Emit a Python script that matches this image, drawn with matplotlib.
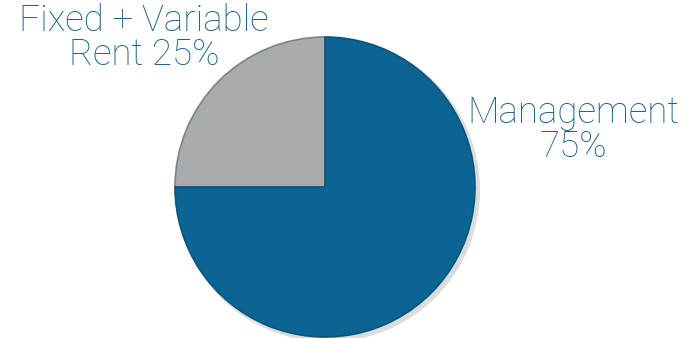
import matplotlib.pyplot as plt

labels = ["Fixed + Variable\nRent 25%", "Management\n75%"]
shares = [25, 75]
colors = ["#a8acaf", "#0b6491"]
text_color = "#1b6089"

fig = plt.figure(figsize=(6.92, 3.38), dpi=100)
ax = fig.add_axes([0, 0, 1, 1])
ax.set_xlim(0, 692)
ax.set_ylim(0, 338)
ax.set_aspect("equal")
ax.axis("off")

# soft shadow behind the pie
ax.pie([1], radius=152, center=(328, 148), colors=["#dcdcdc"],
       wedgeprops=dict(linewidth=0))
wedges, _ = ax.pie(shares, radius=150, center=(325, 151), colors=colors,
                   startangle=90, counterclock=True,
                   wedgeprops=dict(linewidth=1.2, edgecolor="#7d8386"))
wedges[1].set_edgecolor("#09557c")
ax.set_xlim(0, 692)
ax.set_ylim(0, 338)

font = dict(family=["Roboto", "DejaVu Sans"], fontweight="light",
            fontsize=26.5, color=text_color, ha="center", va="center",
            linespacing=0.95)
ax.text(144, 300, labels[0], **font)
ax.text(573, 208, labels[1], **font)

fig.savefig("out.png", dpi=100)
